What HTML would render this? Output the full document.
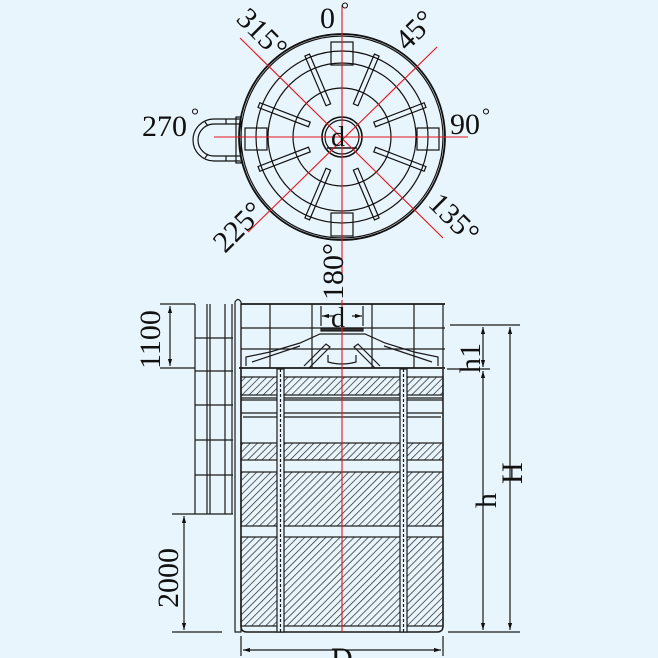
<!DOCTYPE html>
<html><head><meta charset="utf-8"><style>
html,body{margin:0;padding:0;background:#e9f5fd;}
svg{display:block}
text{font-family:"Liberation Serif",serif;fill:#111}
</style></head><body>
<svg width="658" height="658" viewBox="0 0 658 658" xmlns="http://www.w3.org/2000/svg">
<defs>
<pattern id="h" patternUnits="userSpaceOnUse" width="5" height="5" patternTransform="rotate(45)">
<rect width="5" height="5" fill="#e9f5fd"/><line x1="0" y1="0" x2="0" y2="5" stroke="#222" stroke-width="1.4"/>
</pattern>
<marker id="a" viewBox="0 0 10 10" refX="10" refY="5" markerWidth="6" markerHeight="6" orient="auto-start-reverse"><path d="M0,2 L10,5 L0,8 z" fill="#111"/></marker>
</defs>
<rect width="658" height="658" fill="#e9f5fd"/>
<!-- TOP VIEW -->
<g fill="none" stroke="#111" stroke-width="1.2">
<circle cx="342" cy="137" r="103" stroke-width="1.8"/>
<circle cx="342" cy="137" r="101"/>
<circle cx="342" cy="137" r="86"/>
<circle cx="342" cy="137" r="74"/>
<circle cx="342" cy="137" r="49"/>
<circle cx="342" cy="137" r="20" stroke-width="1.6"/>
<circle cx="342" cy="137" r="17"/>
<rect x="331" y="42" width="22" height="23"/>
<rect x="331" y="213" width="22" height="23"/>
<rect x="245" y="128" width="22" height="22"/>
<rect x="417" y="128" width="22" height="22"/>
<g transform="translate(342,137)">
<rect x="-2.5" y="-89" width="5" height="54" transform="rotate(23)"/>
<rect x="-2.5" y="-89" width="5" height="54" transform="rotate(-23)"/>
<rect x="-2.5" y="-89" width="5" height="54" transform="rotate(69)"/>
<rect x="-2.5" y="-89" width="5" height="54" transform="rotate(-69)"/>
<rect x="-2.5" y="-89" width="5" height="54" transform="rotate(111)"/>
<rect x="-2.5" y="-89" width="5" height="54" transform="rotate(-111)"/>
<rect x="-2.5" y="-89" width="5" height="54" transform="rotate(157)"/>
<rect x="-2.5" y="-89" width="5" height="54" transform="rotate(-157)"/>
</g>
<path d="M240,119 L214,119 A21,21 0 0 0 214,161 L240,161"/>
<path d="M240,124 L214,124 A16,16 0 0 0 214,156 L240,156"/>
<path d="M226,119 L226,124 M226,156 L226,161 M205,122 L208,126 M205,158 L208,154"/>
<rect x="236" y="117" width="5" height="46"/>
<line x1="327" y1="148" x2="357" y2="148" stroke-width="1.6"/>
</g>
<g stroke="#e8131b" stroke-width="1.1">
<line x1="342" y1="5" x2="342" y2="282"/>
<line x1="214" y1="137" x2="468" y2="137"/>
<line x1="240" y1="38" x2="443" y2="238"/>
<line x1="437" y1="47" x2="248" y2="232"/>
</g>
<g font-size="30">
<text x="320" y="28">0</text><text x="341" y="16" font-size="20">°</text>
<text x="450" y="134">90</text><text x="482" y="122" font-size="20">°</text>
<text x="142" y="136">270</text><text x="191" y="122" font-size="20">°</text>
<text transform="translate(235,20) rotate(45)">315°</text>
<text transform="translate(407,52) rotate(-45)">45°</text>
<text transform="translate(427,205) rotate(45)">135°</text>
<text transform="translate(225,254) rotate(-45)">225°</text>
<text transform="translate(343,300) rotate(-90)">180°</text>
<text x="331" y="146" font-size="28">d</text>
</g>
<!-- SIDE VIEW -->
<g fill="none" stroke="#1a1a1a" stroke-width="1.2">
<rect x="241" y="377" width="202" height="18" fill="url(#h)"/>
<rect x="241" y="443" width="202" height="17" fill="url(#h)"/>
<rect x="241" y="472" width="202" height="54" fill="url(#h)"/>
<rect x="241" y="537" width="202" height="89" fill="url(#h)"/>
<path d="M241,369 L241,626 Q241,632 247,632 L437,632 Q443,632 443,626 L443,369" stroke-width="1.5"/>
<line x1="241" y1="400" x2="443" y2="400"/><line x1="241" y1="413" x2="443" y2="413"/><line x1="243" y1="417" x2="441" y2="417"/>
<line x1="241" y1="398" x2="443" y2="398"/>
<rect x="277" y="369" width="7" height="263" fill="#e9f5fd"/>
<line x1="280.5" y1="369" x2="280.5" y2="632" stroke-dasharray="3,2"/>
<rect x="400" y="369" width="7" height="263" fill="#e9f5fd"/>
<line x1="403.5" y1="369" x2="403.5" y2="632" stroke-dasharray="3,2"/>
<line x1="239" y1="368" x2="445" y2="368" stroke-width="1.8"/>
<path d="M246,366 L246,357 L270,352 L300,343 L320,334 L365,334 L385,343 L414,352 L438,357 L438,366"/>
<path d="M252,362 L300,346 M432,362 L384,346"/>
<rect x="321" y="328" width="42" height="3" fill="#333"/>
<path d="M328,355 L328,362 Q342,366 356,362 L356,355"/>
<path d="M304,366 L326,344 L330,347 L309,368 M380,366 L358,344 L354,347 L375,368"/>
<line x1="241" y1="304" x2="445" y2="304" stroke-width="1.8"/>
<line x1="241" y1="328" x2="445" y2="328"/>
<line x1="241" y1="349" x2="445" y2="349"/>
<line x1="241" y1="304" x2="241" y2="368"/><line x1="270" y1="304" x2="270" y2="368"/>
<line x1="312" y1="304" x2="312" y2="368"/><line x1="372" y1="304" x2="372" y2="368"/>
<line x1="414" y1="304" x2="414" y2="368"/><line x1="443" y1="304" x2="443" y2="368"/>
<path d="M195,304 L195,514 M207,304 L207,514 M210,304 L210,514 M225,304 L225,514 M232,304 L232,514"/>
<path d="M195,338 L233,338 M195,371 L233,371 M195,405 L233,405 M195,440 L233,440 M195,475 L233,475 M172,514 L233,514"/>
<path d="M235,632 L235,302 Q238,297 241,302 L241,632 Z"/>
<line x1="160" y1="304" x2="195" y2="304"/><line x1="160" y1="368" x2="195" y2="368"/>
<line x1="170" y1="306" x2="170" y2="366" marker-start="url(#a)" marker-end="url(#a)"/>
<line x1="172" y1="632" x2="222" y2="632"/>
<line x1="184" y1="516" x2="184" y2="630" marker-start="url(#a)" marker-end="url(#a)"/>
<line x1="450" y1="325" x2="520" y2="325"/><line x1="447" y1="369" x2="490" y2="369"/>
<line x1="448" y1="632" x2="520" y2="632"/>
<line x1="483" y1="327" x2="483" y2="367" marker-start="url(#a)" marker-end="url(#a)"/>
<line x1="483" y1="371" x2="483" y2="630" marker-start="url(#a)" marker-end="url(#a)"/>
<line x1="510" y1="327" x2="510" y2="630" marker-start="url(#a)" marker-end="url(#a)"/>
<line x1="241" y1="636" x2="241" y2="656"/><line x1="443" y1="636" x2="443" y2="656"/>
<line x1="243" y1="650" x2="441" y2="650" marker-start="url(#a)" marker-end="url(#a)"/>
<line x1="322" y1="316" x2="334" y2="316" marker-start="url(#a)"/>
<line x1="352" y1="316" x2="362" y2="316" marker-end="url(#a)"/>
<line x1="321" y1="306" x2="321" y2="326"/><line x1="363" y1="306" x2="363" y2="326"/>
</g>
<line x1="342" y1="300" x2="342" y2="632" stroke="#e8131b" stroke-width="1.1"/>
<g font-size="30">
<text transform="translate(160,369) rotate(-90)">1100</text>
<text transform="translate(178,608) rotate(-90)">2000</text>
<text transform="translate(480,373) rotate(-90)">h1</text>
<text transform="translate(496,508) rotate(-90)">h</text>
<text transform="translate(522,484) rotate(-90)">H</text>
<text x="331" y="327" font-size="28">d</text>
<text x="331" y="668">D</text>
</g>
</svg>
</body></html>
